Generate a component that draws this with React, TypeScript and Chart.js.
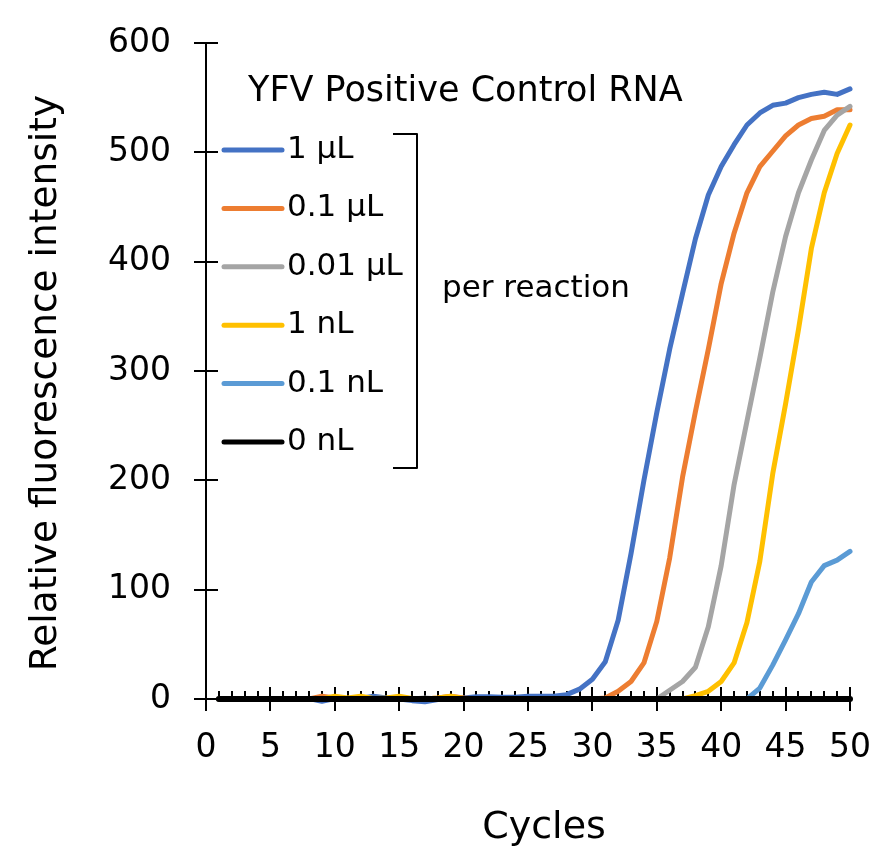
import React, { useEffect, useRef } from "react";
import { Chart, registerables } from "chart.js";

Chart.register(...registerables);

const FONT = '"DejaVu Sans", Verdana, sans-serif';

// PCR cycle numbers
const cycles = [
  1, 2, 3, 4, 5, 6, 7, 8, 9, 10, 11, 12, 13, 14, 15, 16, 17, 18, 19, 20, 21, 22, 23, 24, 25,
  26, 27, 28, 29, 30, 31, 32, 33, 34, 35, 36, 37, 38, 39, 40, 41, 42, 43, 44, 45, 46, 47, 48, 49, 50,
];

const seriesLabels = ["1 µL", "0.1 µL", "0.01 µL", "1 nL", "0.1 nL", "0 nL"];
const seriesColors = ["#4472C4", "#ED7D31", "#A5A5A5", "#FFC000", "#5B9BD5", "#000000"];

// Relative fluorescence per cycle, one array per template amount
const rfu1uL = [
  0, 0, 0, 0, 0, 0, 0, 0.5, -2, 0.5, 0, 0.5, 2.5, 1, 0, -1.5, -2.5, -0.5, 0, 1, 2, 2, 1.5, 1.5, 2.5,
  2.5, 2.5, 4, 9, 18, 34, 72, 133, 200, 262, 320, 371, 421, 461, 487, 507, 525, 536, 543, 545, 550, 553, 555, 553, 558,
];
const rfu01uL = [
  0, 0, 0, 0, 0, 0, 0, 0, 2.5, 1, 0, 0.5, 0, 0.5, 0, 0, 0, 1, 2.5, 1, 0, 0, 0, 0, 0,
  0, 0, 0, 0, 0, 1, 7, 16, 33, 71, 129, 203, 263, 320, 380, 426, 463, 487, 501, 515, 525, 531, 533, 539, 539,
];
const rfu001uL = [
  0, 0, 0, 0, 0, 0, 0, 0, 0, 1, 0, 0, 0, 0, 0, 0, 1, 0, 0, 0, 0, 0, 0, 0, 0,
  0, 0, 0, 0, 0, 0, 0, 0, 0, 0, 8, 16, 29, 66, 122, 196, 254, 312, 372, 423, 463, 493, 520, 534, 542,
];
const rfu1nL = [
  0, 0, 0, 0, 0, 0, 0, 0, 0, 2.5, 1, 2.5, 0.5, 1, 2.5, 0.5, 0, 1, 2.5, 0.5, 0, 0, 0, 0, 0,
  0, 0, 0, 0, 0, 0, 0, 0, 0, 0, 0, 0, 3, 7, 16, 33, 70, 126, 206, 270, 338, 412, 463, 499, 525,
];
const rfu01nL = [
  0, 0, 0, 0, 0, 0, 0, 0, 0, 0, 0, 0, 0, 0, 0, 0, 0, 0, 0, 0, 0, 0, 0, 0, 0,
  0, 0, 0, 0, 0, 0, 0, 0, 0, 0, 0, 0, 0, 0, 0, 0, 0, 10, 31, 54, 78, 107, 122, 127, 135,
];
const rfu0nL = [
  0, 0, 0, 0, 0, 0, 0, 0, 0, 0, 0, 0, 0, 0, 0, 0, 0, 0, 0, 0, 0, 0, 0, 0, 0,
  0, 0, 0, 0, 0, 0, 0, 0, 0, 0, 0, 0, 0, 0, 0, 0, 0, 0, 0, 0, 0, 0, 0, 0, 0,
];

const seriesValues = [rfu1uL, rfu01uL, rfu001uL, rfu1nL, rfu01nL, rfu0nL];

const xTicks = { min: 0, max: 50, step: 5 };
const yTicks = { min: 0, max: 600, step: 100 };

const xTitle = "Cycles";
const yTitle = "Relative fluorescence intensity";
const legendTitle = "YFV Positive Control RNA";
const bracketNote = "per reaction";

// Axis lines with crossing major ticks, inside minor ticks on the x axis, and axis titles
const axesPlugin = {
  id: "crossAxes",
  beforeDatasetsDraw(chart: any) {
    const { ctx, chartArea } = chart;
    const xs = chart.scales.x;
    const ys = chart.scales.y;
    const x0 = Math.round(xs.getPixelForValue(xs.min));
    const xEnd = Math.round(xs.getPixelForValue(xs.max));
    const y0 = Math.round(ys.getPixelForValue(ys.min));
    const yTop = Math.round(ys.getPixelForValue(ys.max));
    const major = 12;
    const minor = 8;
    ctx.save();
    ctx.strokeStyle = "#000";
    ctx.lineWidth = 2;
    ctx.beginPath();
    ctx.moveTo(x0, yTop);
    ctx.lineTo(x0, y0 + major);
    ctx.moveTo(x0 - major, y0);
    ctx.lineTo(xEnd, y0);
    ys.ticks.forEach((t: any) => {
      if (t.value === ys.min) return;
      const py = Math.round(ys.getPixelForValue(t.value));
      ctx.moveTo(x0 - major, py);
      ctx.lineTo(x0 + major, py);
    });
    for (let c = xs.min + 1; c <= xs.max; c++) {
      const px = Math.round(xs.getPixelForValue(c));
      if (c % xTicks.step === 0) {
        ctx.moveTo(px, y0 - major);
        ctx.lineTo(px, y0 + major);
      } else {
        ctx.moveTo(px, y0 - minor);
        ctx.lineTo(px, y0);
      }
    }
    ctx.stroke();

    ctx.fillStyle = "#000";
    ctx.textAlign = "center";
    ctx.textBaseline = "middle";

    // horizontal axis title
    ctx.font = `38px ${FONT}`;
    ctx.fillText(xTitle, (chartArea.left + chartArea.right) / 2 + 16, chartArea.bottom + 129);

    // vertical axis title, rotated
    ctx.font = `37.5px ${FONT}`;
    ctx.translate(chartArea.left - 160, (chartArea.top + chartArea.bottom) / 2 + 12);
    ctx.rotate(-Math.PI / 2);
    ctx.fillText(yTitle, 0, 0);
    ctx.restore();
  },
};

// Legend with heading, line samples and a bracket noting the amounts are per reaction
const bracketLegendPlugin = {
  id: "bracketLegend",
  afterDatasetsDraw(chart: any) {
    const { ctx, chartArea } = chart;
    const L = chartArea.left;
    const T = chartArea.top;
    ctx.save();
    ctx.fillStyle = "#000";
    ctx.textAlign = "left";
    ctx.textBaseline = "alphabetic";
    ctx.font = `35px ${FONT}`;
    ctx.fillText(legendTitle, L + 42, T + 58);

    const rowGap = 58.4;
    ctx.font = `31px ${FONT}`;
    ctx.textBaseline = "middle";
    chart.data.datasets.forEach((ds: any, i: number) => {
      const cy = T + 107 + i * rowGap;
      ctx.strokeStyle = ds.borderColor;
      ctx.lineWidth = 5;
      ctx.lineCap = "round";
      ctx.beginPath();
      ctx.moveTo(L + 18, cy);
      ctx.lineTo(L + 76, cy);
      ctx.stroke();
      ctx.fillStyle = "#000";
      ctx.fillText(ds.label, L + 81, cy);
    });

    // bracket
    const bx = L + 211;
    const bTop = T + 91;
    const bBot = T + 425;
    ctx.strokeStyle = "#000";
    ctx.lineWidth = 2;
    ctx.lineCap = "butt";
    ctx.lineJoin = "round";
    ctx.beginPath();
    ctx.moveTo(L + 187, bTop);
    ctx.lineTo(bx, bTop);
    ctx.lineTo(bx, bBot);
    ctx.lineTo(L + 187, bBot);
    ctx.stroke();

    ctx.fillText(bracketNote, L + 236, T + 246);
    ctx.restore();
  },
};

export default function App() {
  const canvasRef = useRef<HTMLCanvasElement | null>(null);

  useEffect(() => {
    if (!canvasRef.current) return;
    const datasets = seriesValues.map((vals, i) => ({
      label: seriesLabels[i],
      data: vals.map((v, j) => ({ x: cycles[j], y: v })),
      borderColor: seriesColors[i],
      backgroundColor: seriesColors[i],
      borderWidth: i === seriesValues.length - 1 ? 6 : 5,
      pointRadius: 0,
      tension: 0,
      borderJoinStyle: "round" as const,
      borderCapStyle: "round" as const,
      clip: false as const,
      order: seriesValues.length - 1 - i,
    }));

    const chart = new Chart(canvasRef.current, {
      type: "line",
      data: { datasets },
      options: {
        responsive: false,
        animation: false,
        parsing: false,
        layout: { padding: { left: 0, top: 43, right: 44, bottom: 0 } },
        plugins: { legend: { display: false }, tooltip: { enabled: false } },
        scales: {
          x: {
            type: "linear",
            min: xTicks.min,
            max: xTicks.max,
            afterFit: (s: any) => {
              s.height = 163;
              s.paddingLeft = 0;
              s.paddingRight = 0;
            },
            ticks: {
              stepSize: xTicks.step,
              color: "#000",
              font: { family: FONT, size: 33 },
              padding: 30,
              maxRotation: 0,
            },
            grid: { display: false, drawTicks: false },
            border: { display: false },
            title: { display: false },
          },
          y: {
            type: "linear",
            min: yTicks.min,
            max: yTicks.max,
            afterFit: (s: any) => {
              s.width = 206;
              s.paddingTop = 0;
              s.paddingBottom = 0;
            },
            ticks: {
              stepSize: yTicks.step,
              color: "#000",
              font: { family: FONT, size: 33 },
              padding: 35,
            },
            grid: { display: false, drawTicks: false },
            border: { display: false },
            title: { display: false },
          },
        },
      },
      plugins: [axesPlugin, bracketLegendPlugin],
    });
    return () => chart.destroy();
  }, []);

  return (
    <div style={{ position: "fixed", left: 0, top: 0, width: 894, height: 862, background: "#fff" }}>
      <canvas ref={canvasRef} width={894} height={862} style={{ display: "block" }} />
    </div>
  );
}
